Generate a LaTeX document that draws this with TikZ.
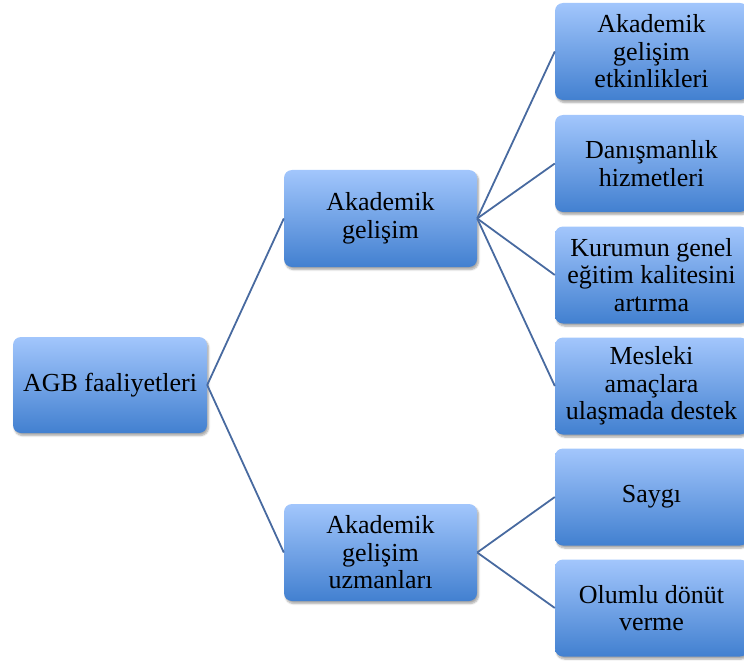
\documentclass[tikz,border=0pt]{standalone}
\usepackage{fontspec}
\setmainfont{Liberation Serif}
\usetikzlibrary{shadows.blur}
\definecolor{boxtop}{RGB}{162,198,252}
\definecolor{boxbot}{RGB}{66,128,208}
\definecolor{linkcol}{RGB}{72,106,160}
\tikzset{
  box/.style={rounded corners=8pt, minimum width=193pt, minimum height=97pt,
    top color=boxtop, bottom color=boxbot, align=center, inner sep=2pt,
    font=\fontsize{26pt}{27.5pt}\selectfont,
    blur shadow={shadow xshift=1.5pt, shadow yshift=-2.5pt, shadow blur steps=6, shadow opacity=35}},
  link/.style={draw=linkcol, line width=1.8pt}
}
\begin{document}
\begin{tikzpicture}[x=1pt,y=1pt]
\useasboundingbox (0,0) rectangle (744,-663);
\node[box, minimum width=194pt, minimum height=96pt] (agb) at (110,-385) {AGB faaliyetleri};
\node[box] (ag) at (380.5,-218.5) {Akademik\\gelişim};
\node[box] (agu) at (380.5,-552.5) {Akademik\\gelişim\\uzmanları};
\node[box] (r1) at (651.5,-51.5) {Akademik\\gelişim\\etkinlikleri};
\node[box] (r2) at (651.5,-163.5) {Danışmanlık\\hizmetleri};
\node[box] (r3) at (651.5,-275) {Kurumun genel\\eğitim kalitesini\\artırma};
\node[box] (r4) at (651.5,-386) {Mesleki\\amaçlara\\ulaşmada destek};
\node[box] (r5) at (651.5,-497) {Saygı};
\node[box] (r6) at (651.5,-608) {Olumlu dönüt\\verme};
\draw[link] (agb.east) -- (ag.west);
\draw[link] (agb.east) -- (agu.west);
\foreach \r in {r1,r2,r3,r4} \draw[link] (ag.east) -- (\r.west);
\foreach \r in {r5,r6} \draw[link] (agu.east) -- (\r.west);
\end{tikzpicture}
\end{document}
